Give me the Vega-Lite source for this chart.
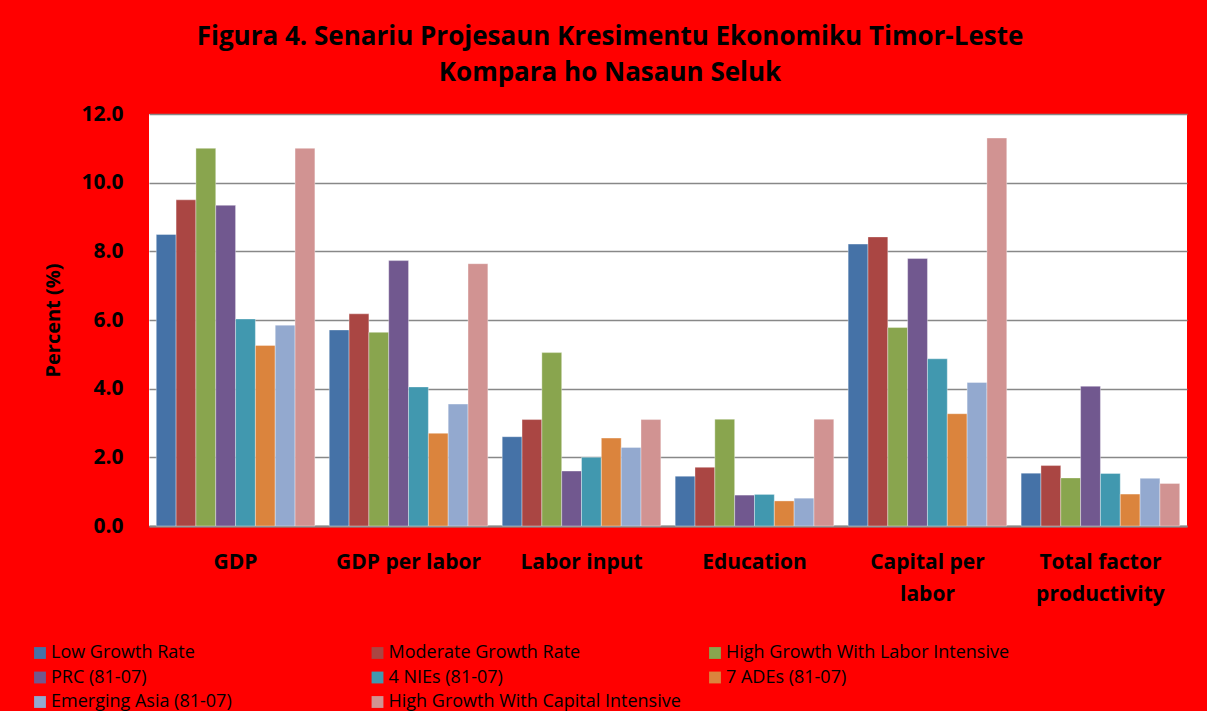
{
  "$schema": "https://vega.github.io/schema/vega-lite/v6.json",
  "width": 1038,
  "height": 412,
  "autosize": {"type": "none"},
  "padding": {"left": 149, "top": 114, "right": 20, "bottom": 185},
  "background": "#ff0000",
  "title": {
    "text": ["Figura 4. Senariu Projesaun Kresimentu Ekonomiku Timor-Leste", "Kompara ho Nasaun Seluk"],
    "font": "Open Sans",
    "fontSize": 26,
    "fontWeight": "bold",
    "color": "#000000",
    "anchor": "middle",
    "frame": "group",
    "dx": -58,
    "lineHeight": 36,
    "offset": 17
  },
  "data": {
    "values": [
      {"indicator": "GDP", "scenario": "Low Growth Rate", "value": 8.49},
      {"indicator": "GDP", "scenario": "Moderate Growth Rate", "value": 9.5},
      {"indicator": "GDP", "scenario": "High Growth With Labor Intensive", "value": 11.0},
      {"indicator": "GDP", "scenario": "PRC (81-07)", "value": 9.34},
      {"indicator": "GDP", "scenario": "4 NIEs (81-07)", "value": 6.03},
      {"indicator": "GDP", "scenario": "7 ADEs (81-07)", "value": 5.26},
      {"indicator": "GDP", "scenario": "Emerging Asia (81-07)", "value": 5.85},
      {"indicator": "GDP", "scenario": "High Growth With Capital Intensive", "value": 11.0},
      {"indicator": "GDP per labor", "scenario": "Low Growth Rate", "value": 5.71},
      {"indicator": "GDP per labor", "scenario": "Moderate Growth Rate", "value": 6.18},
      {"indicator": "GDP per labor", "scenario": "High Growth With Labor Intensive", "value": 5.64},
      {"indicator": "GDP per labor", "scenario": "PRC (81-07)", "value": 7.73},
      {"indicator": "GDP per labor", "scenario": "4 NIEs (81-07)", "value": 4.05},
      {"indicator": "GDP per labor", "scenario": "7 ADEs (81-07)", "value": 2.7},
      {"indicator": "GDP per labor", "scenario": "Emerging Asia (81-07)", "value": 3.55},
      {"indicator": "GDP per labor", "scenario": "High Growth With Capital Intensive", "value": 7.64},
      {"indicator": "Labor input", "scenario": "Low Growth Rate", "value": 2.6},
      {"indicator": "Labor input", "scenario": "Moderate Growth Rate", "value": 3.1},
      {"indicator": "Labor input", "scenario": "High Growth With Labor Intensive", "value": 5.05},
      {"indicator": "Labor input", "scenario": "PRC (81-07)", "value": 1.6},
      {"indicator": "Labor input", "scenario": "4 NIEs (81-07)", "value": 2.0},
      {"indicator": "Labor input", "scenario": "7 ADEs (81-07)", "value": 2.56},
      {"indicator": "Labor input", "scenario": "Emerging Asia (81-07)", "value": 2.29},
      {"indicator": "Labor input", "scenario": "High Growth With Capital Intensive", "value": 3.1},
      {"indicator": "Education", "scenario": "Low Growth Rate", "value": 1.45},
      {"indicator": "Education", "scenario": "Moderate Growth Rate", "value": 1.71},
      {"indicator": "Education", "scenario": "High Growth With Labor Intensive", "value": 3.11},
      {"indicator": "Education", "scenario": "PRC (81-07)", "value": 0.9},
      {"indicator": "Education", "scenario": "4 NIEs (81-07)", "value": 0.92},
      {"indicator": "Education", "scenario": "7 ADEs (81-07)", "value": 0.73},
      {"indicator": "Education", "scenario": "Emerging Asia (81-07)", "value": 0.81},
      {"indicator": "Education", "scenario": "High Growth With Capital Intensive", "value": 3.11},
      {"indicator": "Capital per labor", "scenario": "Low Growth Rate", "value": 8.21},
      {"indicator": "Capital per labor", "scenario": "Moderate Growth Rate", "value": 8.42},
      {"indicator": "Capital per labor", "scenario": "High Growth With Labor Intensive", "value": 5.78},
      {"indicator": "Capital per labor", "scenario": "PRC (81-07)", "value": 7.79},
      {"indicator": "Capital per labor", "scenario": "4 NIEs (81-07)", "value": 4.87},
      {"indicator": "Capital per labor", "scenario": "7 ADEs (81-07)", "value": 3.27},
      {"indicator": "Capital per labor", "scenario": "Emerging Asia (81-07)", "value": 4.18},
      {"indicator": "Capital per labor", "scenario": "High Growth With Capital Intensive", "value": 11.3},
      {"indicator": "Total factor productivity", "scenario": "Low Growth Rate", "value": 1.54},
      {"indicator": "Total factor productivity", "scenario": "Moderate Growth Rate", "value": 1.76},
      {"indicator": "Total factor productivity", "scenario": "High Growth With Labor Intensive", "value": 1.4},
      {"indicator": "Total factor productivity", "scenario": "PRC (81-07)", "value": 4.07},
      {"indicator": "Total factor productivity", "scenario": "4 NIEs (81-07)", "value": 1.53},
      {"indicator": "Total factor productivity", "scenario": "7 ADEs (81-07)", "value": 0.93},
      {"indicator": "Total factor productivity", "scenario": "Emerging Asia (81-07)", "value": 1.39},
      {"indicator": "Total factor productivity", "scenario": "High Growth With Capital Intensive", "value": 1.24}
    ]
  },
  "mark": {"type": "bar", "stroke": "#ffffff", "strokeOpacity": 0.35, "strokeWidth": 1},
  "encoding": {
    "x": {
      "field": "indicator",
      "type": "nominal",
      "sort": ["GDP", "GDP per labor", "Labor input", "Education", "Capital per labor", "Total factor productivity"],
      "scale": {"paddingInner": 0.083, "paddingOuter": 0.042},
      "axis": {
        "title": null,
        "domainColor": "#888888",
        "domainWidth": 2,
        "ticks": false,
        "labelFont": "Open Sans",
        "labelFontSize": 21,
        "labelFontWeight": "bold",
        "labelColor": "#000000",
        "labelPadding": 25,
        "labelAngle": 0,
        "labelLineHeight": 32,
        "labelLimit": 0,
        "labelExpr": "datum.label == 'Capital per labor' ? ['Capital per', 'labor'] : datum.label == 'Total factor productivity' ? ['Total factor', 'productivity'] : datum.label"
      }
    },
    "xOffset": {
      "field": "scenario",
      "type": "nominal",
      "sort": ["Low Growth Rate", "Moderate Growth Rate", "High Growth With Labor Intensive", "PRC (81-07)", "4 NIEs (81-07)", "7 ADEs (81-07)", "Emerging Asia (81-07)", "High Growth With Capital Intensive"],
      "scale": {"paddingInner": 0, "paddingOuter": 0}
    },
    "y": {
      "field": "value",
      "type": "quantitative",
      "scale": {"domain": [0, 12]},
      "axis": {
        "title": "Percent (%)",
        "values": [0, 2, 4, 6, 8, 10, 12],
        "format": ".1f",
        "domain": false,
        "ticks": false,
        "labelFont": "Open Sans",
        "labelFontSize": 21,
        "labelFontWeight": "bold",
        "labelColor": "#000000",
        "labelPadding": 26,
        "titleFont": "Open Sans",
        "titleFontSize": 20,
        "titleFontWeight": "bold",
        "titleColor": "#000000",
        "titlePadding": 17,
        "gridColor": "#888888",
        "gridWidth": 1.5
      }
    },
    "color": {
      "field": "scenario",
      "type": "nominal",
      "sort": ["Low Growth Rate", "Moderate Growth Rate", "High Growth With Labor Intensive", "PRC (81-07)", "4 NIEs (81-07)", "7 ADEs (81-07)", "Emerging Asia (81-07)", "High Growth With Capital Intensive"],
      "scale": {
        "domain": ["Low Growth Rate", "Moderate Growth Rate", "High Growth With Labor Intensive", "PRC (81-07)", "4 NIEs (81-07)", "7 ADEs (81-07)", "Emerging Asia (81-07)", "High Growth With Capital Intensive"],
        "range": ["#4572A7", "#AA4643", "#89A54E", "#71588F", "#4198AF", "#DB843D", "#93A9CF", "#D19392"]
      },
      "legend": {
        "title": null,
        "orient": "none",
        "legendX": -118,
        "legendY": 530,
        "direction": "horizontal",
        "columns": 3,
        "gridAlign": "all",
        "columnPadding": 24.5,
        "rowPadding": 6.5,
        "symbolType": "square",
        "symbolSize": 140,
        "symbolStrokeWidth": 0,
        "labelFont": "Open Sans",
        "labelFontSize": 18,
        "labelColor": "#000000",
        "labelOffset": 2,
        "labelLimit": 0
      }
    }
  },
  "config": {"view": {"fill": "#ffffff", "stroke": null}}
}
